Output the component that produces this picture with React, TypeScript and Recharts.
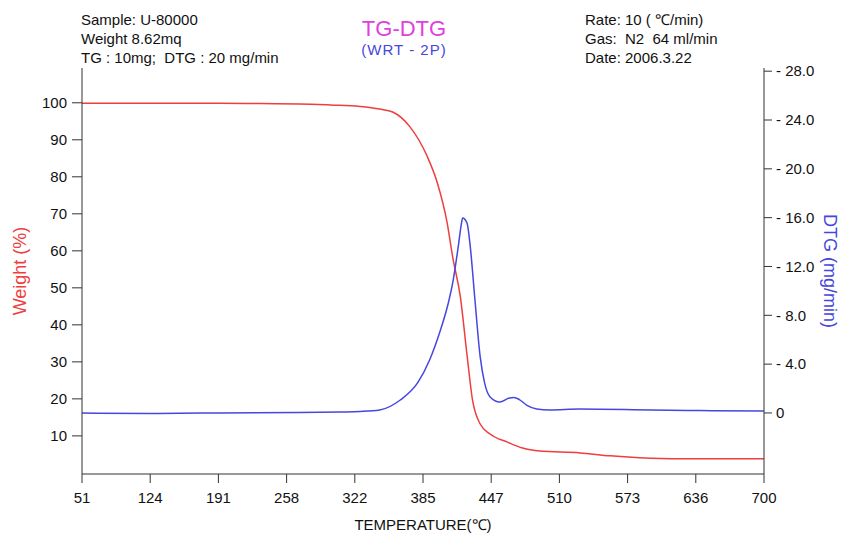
import { ComposedChart, Line, XAxis, YAxis } from 'recharts';

const TEMP_TICKS = [51, 124, 191, 258, 322, 385, 447, 510, 573, 636, 700];
const WEIGHT_TICKS = [10, 20, 30, 40, 50, 60, 70, 80, 90, 100];
const DTG_TICKS = [0, 4, 8, 12, 16, 20, 24, 28];

// TG curve (weight %)
const TG_TEMP = [51, 124, 192, 232, 270, 299, 327, 345, 357, 373, 389, 398, 407, 412, 419, 425, 430, 437, 446, 462, 476, 492, 529, 557, 584, 621, 659, 700];
const TG_WEIGHT = [99.9, 99.9, 99.9, 99.8, 99.7, 99.4, 99.0, 98.3, 97.5, 93.5, 85.4, 78.4, 67.5, 58.3, 47.5, 31.9, 19.7, 13.2, 10.5, 8.3, 6.7, 5.9, 5.4, 4.6, 4.1, 3.8, 3.8, 3.8];

// DTG curve (mg/min)
const DTG_TEMP = [51, 124, 192, 270, 308, 327, 345, 364, 380, 391, 400, 408, 412, 417, 420, 421, 425, 428, 432, 437, 441, 446, 455, 463, 468, 473, 480, 489, 501, 529, 594, 640, 700];
const DTG_RATE = [0, -0.04, 0, 0.04, 0.08, 0.12, 0.24, 1.06, 2.46, 4.34, 6.55, 9.01, 10.65, 13.6, 15.56, 15.97, 15.56, 13.6, 9.5, 4.59, 2.46, 1.31, 0.9, 1.2, 1.27, 1.1, 0.62, 0.33, 0.25, 0.33, 0.25, 0.2, 0.16];

const RED = '#ee3e3e';
const BLUE = '#4646e0';
const AXIS = '#333';
const TEXT_FONT = '"Liberation Sans", Arial, sans-serif';

// temperature ticks are evenly spaced on the chart, so place readings between their neighbouring ticks
function tempToPos(t: number) {
  for (let i = 0; i < TEMP_TICKS.length - 1; i++) {
    if (t <= TEMP_TICKS[i + 1]) return i + (t - TEMP_TICKS[i]) / (TEMP_TICKS[i + 1] - TEMP_TICKS[i]);
  }
  return TEMP_TICKS.length - 1;
}

const tgData = TG_TEMP.map((t, i) => ({ pos: tempToPos(t), weight: TG_WEIGHT[i] }));
const dtgData = DTG_TEMP.map((t, i) => ({ pos: tempToPos(t), rate: DTG_RATE[i] }));
const posTicks = TEMP_TICKS.map((_, i) => i);

const tickStyle = { fill: '#111', fontSize: 15, fontFamily: TEXT_FONT };

export default function App() {
  return (
    <div style={{ position: 'absolute', left: 0, top: 0, width: 843, height: 533, background: '#fff', fontFamily: TEXT_FONT }}>
      {/* header */}
      <div style={{ position: 'absolute', left: 81, top: 10, fontSize: 15, lineHeight: '19px', color: '#111', whiteSpace: 'pre' }}>
        <div>Sample: U-80000</div>
        <div>Weight 8.62mq</div>
        <div>TG : 10mg;  DTG : 20 mg/min</div>
      </div>
      <div style={{ position: 'absolute', left: 304, width: 200, top: 17, textAlign: 'center', fontSize: 22, lineHeight: '24px', color: '#e040e0' }}>
        TG-DTG
      </div>
      <div style={{ position: 'absolute', left: 304, width: 200, top: 41, textAlign: 'center', fontSize: 15, lineHeight: '18px', letterSpacing: 1, color: BLUE }}>
        (WRT - 2P)
      </div>
      <div style={{ position: 'absolute', left: 585, top: 10, fontSize: 15, lineHeight: '19px', color: '#111', whiteSpace: 'pre' }}>
        <div>Rate: 10 ( ℃/min)</div>
        <div>Gas:  N2  64 ml/min</div>
        <div>Date: 2006.3.22</div>
      </div>

      <ComposedChart width={843} height={533} margin={{ top: 68, right: 0, bottom: 0, left: 0 }} style={{ position: 'absolute', left: 0, top: 0 }}>
        <XAxis
          xAxisId="t"
          type="number"
          dataKey="pos"
          domain={[0, 10]}
          ticks={posTicks}
          tickFormatter={(i) => String(TEMP_TICKS[i])}
          height={59}
          stroke={AXIS}
          tickSize={9}
          tickMargin={9}
          tick={tickStyle}
          allowDataOverflow
          label={{ value: 'TEMPERATURE(℃)', position: 'insideBottom', offset: 3, style: { fill: '#111', fontSize: 15, fontFamily: TEXT_FONT } }}
        />
        <XAxis xAxisId="top" orientation="top" type="number" domain={[0, 10]} height={0} tick={false} tickLine={false} stroke={AXIS} />
        <YAxis
          yAxisId="w"
          orientation="left"
          width={82}
          domain={[-0.3, 109.4]}
          ticks={WEIGHT_TICKS}
          allowDataOverflow
          stroke={AXIS}
          tickSize={10}
          tickMargin={5}
          tick={tickStyle}
          label={{ value: 'Weight (%)', angle: -90, position: 'insideLeft', offset: 20, style: { fill: RED, fontSize: 18, fontFamily: TEXT_FONT, textAnchor: 'middle' } }}
        />
        <YAxis
          yAxisId="d"
          orientation="right"
          width={79}
          domain={[-5, 28.26]}
          ticks={DTG_TICKS}
          allowDataOverflow
          stroke={AXIS}
          tickSize={8}
          tickMargin={4}
          tick={tickStyle}
          tickFormatter={(v) => (v === 0 ? '0' : `- ${Number(v).toFixed(1)}`)}
          label={{ value: 'DTG (mg/min)', angle: 90, position: 'insideRight', offset: 13, style: { fill: BLUE, fontSize: 18, fontFamily: TEXT_FONT, textAnchor: 'middle' } }}
        />
        <Line data={tgData} dataKey="weight" xAxisId="t" yAxisId="w" type="monotone" stroke={RED} strokeWidth={1.5} dot={false} isAnimationActive={false} />
        <Line data={dtgData} dataKey="rate" xAxisId="t" yAxisId="d" type="monotone" stroke={BLUE} strokeWidth={1.5} dot={false} isAnimationActive={false} />
      </ComposedChart>
    </div>
  );
}
